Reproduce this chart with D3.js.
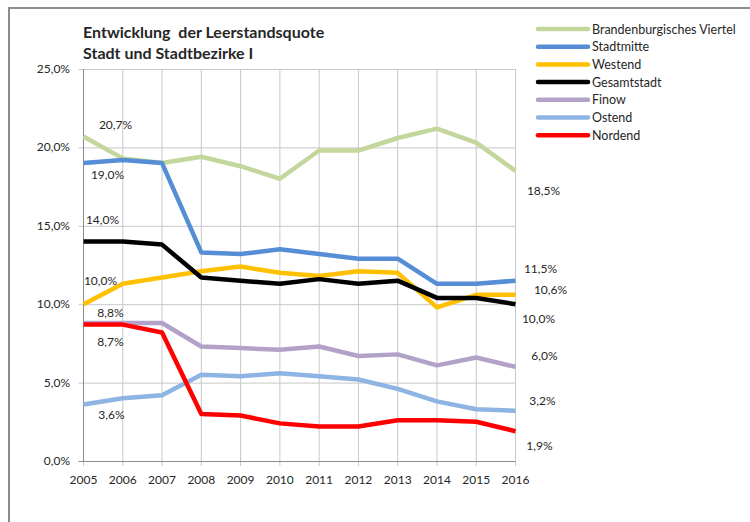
<!DOCTYPE html>
<html lang="de">
<head>
  <meta charset="UTF-8">
  <title>Entwicklung der Leerstandsquote</title>
  <script src="https://cdn.jsdelivr.net/npm/d3@7"></script>
  <style>
    body { margin: 0; background: #fff; }
    svg text { font-family: Lato, "Open Sans", sans-serif; fill: #262626; }
  </style>
</head>
<body>
  <svg id="chart" width="750" height="522"></svg>
  <script>
    // Jahre und Werte (in %)
    const years = [2005, 2006, 2007, 2008, 2009, 2010, 2011, 2012, 2013, 2014, 2015, 2016];
    const yTicks = [0, 5, 10, 15, 20, 25];

    const brandenburg = [20.7, 19.3, 19.0, 19.4, 18.8, 18.0, 19.8, 19.8, 20.6, 21.2, 20.3, 18.5];
    const stadtmitte  = [19.0, 19.2, 19.0, 13.3, 13.2, 13.5, 13.2, 12.9, 12.9, 11.3, 11.3, 11.5];
    const westend     = [10.0, 11.3, 11.7, 12.1, 12.4, 12.0, 11.8, 12.1, 12.0, 9.8, 10.6, 10.6];
    const gesamt      = [14.0, 14.0, 13.8, 11.7, 11.5, 11.3, 11.6, 11.3, 11.5, 10.4, 10.4, 10.0];
    const finow       = [8.8, 8.8, 8.8, 7.3, 7.2, 7.1, 7.3, 6.7, 6.8, 6.1, 6.6, 6.0];
    const ostend      = [3.6, 4.0, 4.2, 5.5, 5.4, 5.6, 5.4, 5.2, 4.6, 3.8, 3.3, 3.2];
    const nordend     = [8.7, 8.7, 8.2, 3.0, 2.9, 2.4, 2.2, 2.2, 2.6, 2.6, 2.5, 1.9];

    const series = [
      { name: 'Brandenburgisches Viertel', values: brandenburg, color: '#c3d69b' },
      { name: 'Stadtmitte', values: stadtmitte, color: '#558ed5' },
      { name: 'Westend', values: westend, color: '#ffc000' },
      { name: 'Gesamtstadt', values: gesamt, color: '#000000' },
      { name: 'Finow', values: finow, color: '#b3a2c7' },
      { name: 'Ostend', values: ostend, color: '#8eb4e3' },
      { name: 'Nordend', values: nordend, color: '#ff0000' }
    ];

    // Beschriftungen: [Serie, Index, dx, dy]
    const labels = [
      [0, 0, 32, -11], [0, 11, 28, 20],
      [1, 0, 24, 12],  [1, 11, 25, -12],
      [2, 0, 17, -23], [2, 11, 35, -5],
      [3, 0, 19, -21], [3, 11, 23, 15],
      [4, 0, 27, -10], [4, 11, 29, -11],
      [5, 0, 28, 10],  [5, 11, 27, -10],
      [6, 0, 27, 17],  [6, 11, 24, 15]
    ];

    const svg = d3.select('#chart');
    const fmt = v => d3.format('.1f')(v).replace('.', ',') + '%';

    // Rahmen
    svg.append('path')
      .attr('d', 'M9,522 V8 H750')
      .attr('fill', 'none')
      .attr('stroke', '#8c8c8c')
      .attr('stroke-width', 2);

    const x = d3.scalePoint().domain(years).range([83.5, 515.5]);
    const y = d3.scaleLinear().domain([0, 25]).range([461, 69]);

    // Gitter
    svg.append('g').selectAll('line').data(years).join('line')
      .attr('x1', d => x(d)).attr('x2', d => x(d))
      .attr('y1', y(25)).attr('y2', y(0) + 5)
      .attr('stroke', '#c8c8c8').attr('stroke-width', 1);
    svg.append('g').selectAll('line').data(yTicks).join('line')
      .attr('x1', x(2005) - 5).attr('x2', x(2016))
      .attr('y1', d => y(d) + 0.5).attr('y2', d => y(d) + 0.5)
      .attr('stroke', d => d === 0 ? '#8c8c8c' : '#c8c8c8').attr('stroke-width', 1);
    svg.append('line')
      .attr('x1', x(2005)).attr('x2', x(2005))
      .attr('y1', y(25)).attr('y2', y(0))
      .attr('stroke', '#8c8c8c');

    // Achsenbeschriftungen
    svg.append('g').selectAll('text').data(yTicks).join('text')
      .attr('x', 70).attr('y', d => y(d) + 4)
      .attr('text-anchor', 'end')
      .attr('font-size', 12)
      .text(d => fmt(d));
    svg.append('g').selectAll('text').data(years).join('text')
      .attr('x', d => x(d)).attr('y', 484)
      .attr('text-anchor', 'middle')
      .attr('font-size', 12)
      .text(d => d);

    // Linien
    const line = d3.line()
      .x((d, i) => x(years[i]))
      .y(d => y(d));
    svg.append('g').selectAll('path').data(series).join('path')
      .attr('d', d => line(d.values))
      .attr('fill', 'none')
      .attr('stroke', d => d.color)
      .attr('stroke-width', 4.5)
      .attr('stroke-linejoin', 'round');

    // Datenbeschriftungen
    svg.append('g').selectAll('text').data(labels).join('text')
      .attr('x', d => x(years[d[1]]) + d[2])
      .attr('y', d => y(series[d[0]].values[d[1]]) + d[3] + 4)
      .attr('text-anchor', 'middle')
      .attr('font-size', 12)
      .text(d => fmt(series[d[0]].values[d[1]]));

    // Titel
    svg.append('text')
      .attr('x', 83).attr('y', 38)
      .attr('font-size', 16).attr('font-weight', 'bold')
      .attr('xml:space', 'preserve')
      .text('Entwicklung  der Leerstandsquote');
    svg.append('text')
      .attr('x', 83).attr('y', 59)
      .attr('font-size', 16).attr('font-weight', 'bold')
      .text('Stadt und Stadtbezirke I');

    // Legende
    const legend = svg.append('g').selectAll('g').data(series).join('g')
      .attr('transform', (d, i) => `translate(538,${29 + i * 17.7})`);
    legend.append('line')
      .attr('x1', 0).attr('x2', 50)
      .attr('stroke', d => d.color)
      .attr('stroke-width', 4.5)
      .attr('stroke-linecap', 'round');
    legend.append('text')
      .attr('x', 54).attr('y', 4.5)
      .attr('font-size', 12.5)
      .text(d => d.name);
  </script>
</body>
</html>
